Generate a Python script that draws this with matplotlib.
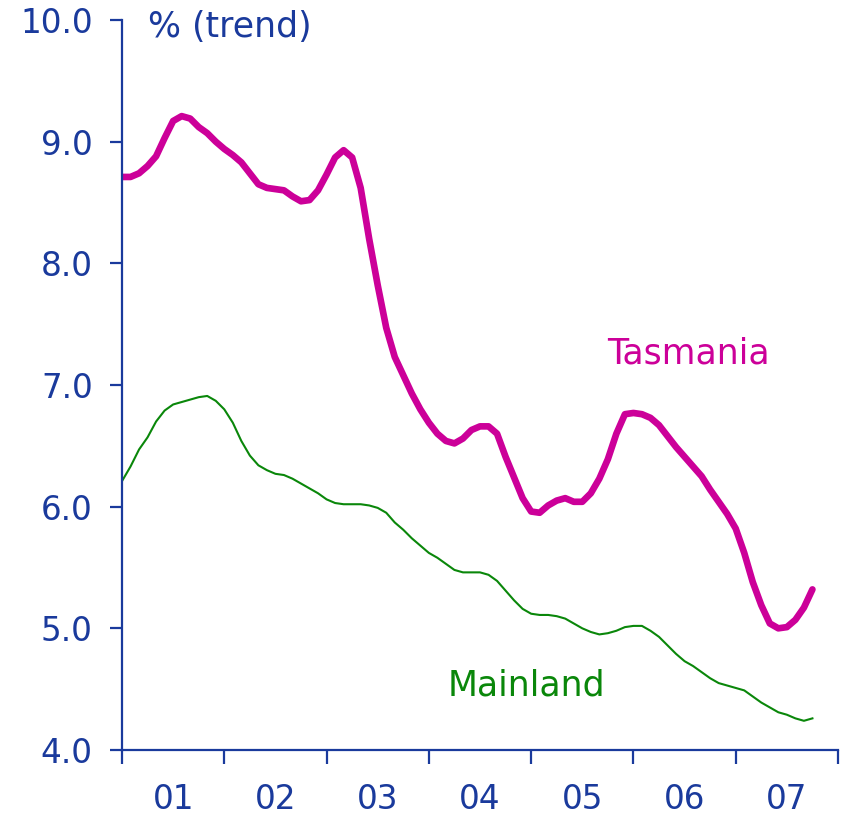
import matplotlib
matplotlib.use("Agg")
import matplotlib.pyplot as plt
import numpy as np

tasmania = [8.71, 8.71, 8.74, 8.80, 8.88, 9.03, 9.17, 9.21, 9.19, 9.12,
            9.07, 9.00, 8.94, 8.89, 8.83, 8.74, 8.65, 8.62, 8.61, 8.60,
            8.55, 8.51, 8.52, 8.60, 8.73, 8.87, 8.93, 8.87, 8.62, 8.20,
            7.82, 7.47, 7.23, 7.08, 6.93, 6.80, 6.69, 6.60, 6.54, 6.52,
            6.56, 6.63, 6.66, 6.66, 6.60, 6.41, 6.24, 6.07, 5.96, 5.95,
            6.01, 6.05, 6.07, 6.04, 6.04, 6.11, 6.23, 6.39, 6.60, 6.76,
            6.77, 6.76, 6.73, 6.67, 6.58, 6.49, 6.41, 6.33, 6.25, 6.14,
            6.04, 5.94, 5.82, 5.62, 5.38, 5.19, 5.04, 5.00, 5.01, 5.07,
            5.17, 5.32]

mainland = [6.21, 6.33, 6.47, 6.57, 6.70, 6.79, 6.84, 6.86, 6.88, 6.90,
            6.91, 6.87, 6.80, 6.69, 6.54, 6.42, 6.34, 6.30, 6.27, 6.26,
            6.23, 6.19, 6.15, 6.11, 6.06, 6.03, 6.02, 6.02, 6.02, 6.01,
            5.99, 5.95, 5.87, 5.81, 5.74, 5.68, 5.62, 5.58, 5.53, 5.48,
            5.46, 5.46, 5.46, 5.44, 5.39, 5.31, 5.23, 5.16, 5.12, 5.11,
            5.11, 5.10, 5.08, 5.04, 5.00, 4.97, 4.95, 4.96, 4.98, 5.01,
            5.02, 5.02, 4.98, 4.93, 4.86, 4.79, 4.73, 4.69, 4.64, 4.59,
            4.55, 4.53, 4.51, 4.49, 4.44, 4.39, 4.35, 4.31, 4.29, 4.26,
            4.24, 4.26]

year_labels = ["01", "02", "03", "04", "05", "06", "07"]
y_ticks = [4.0, 5.0, 6.0, 7.0, 8.0, 9.0, 10.0]

navy = "#1a3a9c"
magenta = "#cc0099"
green = "#0a870a"

fig = plt.figure(figsize=(8.42, 8.17), dpi=100)
ax = fig.add_axes([122/842, 1-750/817, (838-122)/842, (750-20)/817])

months = np.arange(len(tasmania))
ax.plot(months, tasmania, color=magenta, lw=4.8, solid_capstyle="round", solid_joinstyle="round")
ax.plot(months, mainland, color=green, lw=1.5)

ax.set_xlim(0, 84)
ax.set_ylim(4.0, 10.0)

for s in ["top", "right"]:
    ax.spines[s].set_visible(False)
for s in ["left", "bottom"]:
    ax.spines[s].set_color(navy)
    ax.spines[s].set_linewidth(1.6)

ax.set_yticks(y_ticks)
ax.set_yticklabels([f"{v:.1f}" for v in y_ticks])
ax.set_xticks(np.arange(0, 85, 12))
ax.set_xticklabels([])
ax.set_xticks(np.arange(6, 84, 12), minor=True)
ax.set_xticklabels(year_labels, minor=True)

ax.tick_params(axis="y", direction="out", length=9, width=1.6, color=navy,
               labelcolor=navy, labelsize=23.5, pad=12)
ax.tick_params(axis="x", which="major", direction="out", length=10, width=1.6, color=navy)
ax.tick_params(axis="x", which="minor", length=0, labelcolor=navy, labelsize=23.5, pad=24)

fig.text(148/842, 1-27/817, "% (trend)", color=navy, fontsize=25, va="center", ha="left")
ax.text(66.5, 7.26, "Tasmania", color=magenta, fontsize=25, ha="center", va="center")
ax.text(47.5, 4.53, "Mainland", color=green, fontsize=25, ha="center", va="center")

fig.savefig("out.png", dpi=100)
